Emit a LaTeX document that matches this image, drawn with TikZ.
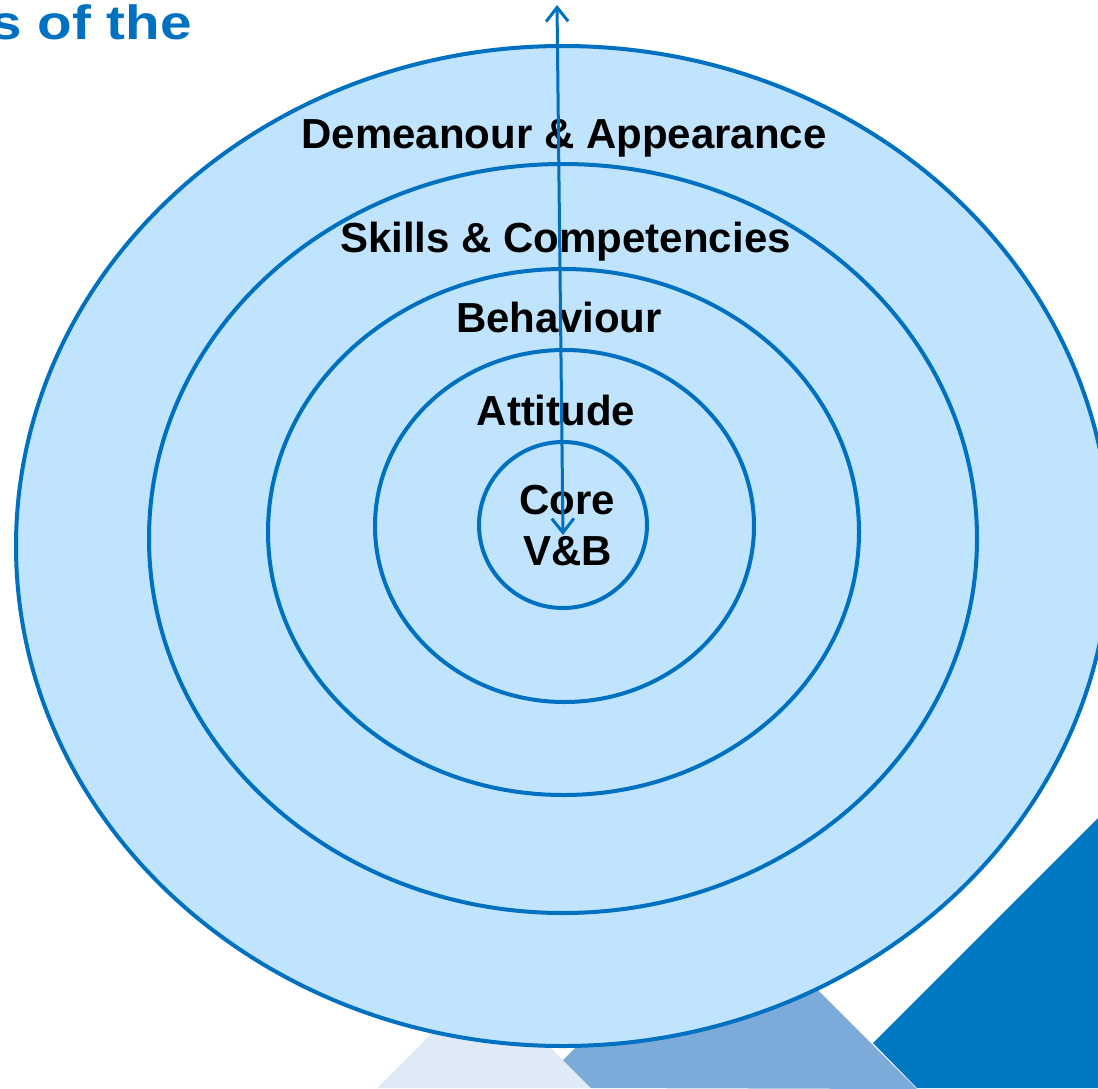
\documentclass[tikz,border=0pt]{standalone}
\usepackage{fontspec}
\setmainfont{Liberation Sans}
\usetikzlibrary{arrows.meta,shapes.geometric}

\definecolor{ringfill}{RGB}{192,228,253}
\definecolor{ringline}{RGB}{0,112,192}
\definecolor{deepblue}{RGB}{0,120,193}
\definecolor{midblue}{RGB}{125,171,217}
\definecolor{paleblue}{RGB}{223,234,246}

\tikzset{vbarb/.tip={Straight Barb[length=14pt,width=22pt]}}

\begin{document}
\begin{tikzpicture}[x=1pt,y=-1pt,
  ring/.style={ellipse, draw=ringline, fill=ringfill, line width=4pt, inner sep=0pt},
  layerlabel/.style={font=\bfseries\fontsize{42}{51}\selectfont, anchor=base, inner sep=0pt},
]
\useasboundingbox (0,0) rectangle (1098,1088);

\begin{scope}
  \clip (0,0) rectangle (1098,1088);

  % decorative background shapes, bottom right
  \fill[paleblue] (377,1088) -- (484,981) -- (591,1088) -- cycle;
  \fill[deepblue] (873,1043) -- (1098,818) -- (1098,1088) -- (917,1088) -- cycle;
  \fill[midblue] (563,1060) -- (725.5,897.5) -- (917,1089) -- (591,1088) -- cycle;

  % heading fragment
  \node[anchor=base east, text=ringline, font=\bfseries\fontsize{48}{56}\selectfont, inner sep=0pt]
    (title) at (192,39) {\scalebox{1.18}[1]{s of the}};

  % concentric layers, outermost first
  \node[ring, minimum width=1094pt, minimum height=1000pt] (demeanour) at (563,546) {};
  \node[ring, minimum width=828pt,  minimum height=749pt]  (skills)    at (563,538.5) {};
  \node[ring, minimum width=591pt,  minimum height=526pt]  (behaviour) at (563.5,532) {};
  \node[ring, minimum width=379pt,  minimum height=352pt]  (attitude)  at (564.5,526) {};
  \node[ring, minimum width=168pt,  minimum height=166pt]  (core)      at (563,525) {};
\end{scope}

% layer labels
\node[layerlabel] (lblDemeanour) at (564,148)   {Demeanour \& Appearance};
\node[layerlabel] (lblSkills)    at (565.5,252) {Skills \& Competencies};
\node[layerlabel] (lblBehaviour) at (559,332)   {Behaviour};
\node[layerlabel] (lblAttitude)  at (556,425)   {Attitude};
\node[font=\bfseries\fontsize{42}{51}\selectfont, align=center, inner sep=0pt]
  (lblCore) at (567.5,526) {Core\\V\&B};

% two-way arrow from the core out past the outer layer
\coordinate (inner end) at (563,535);
\coordinate (outer end) at (557,5);
\draw[ringline, line width=3pt, vbarb-vbarb] (inner end) -- (outer end);
\end{tikzpicture}
\end{document}
